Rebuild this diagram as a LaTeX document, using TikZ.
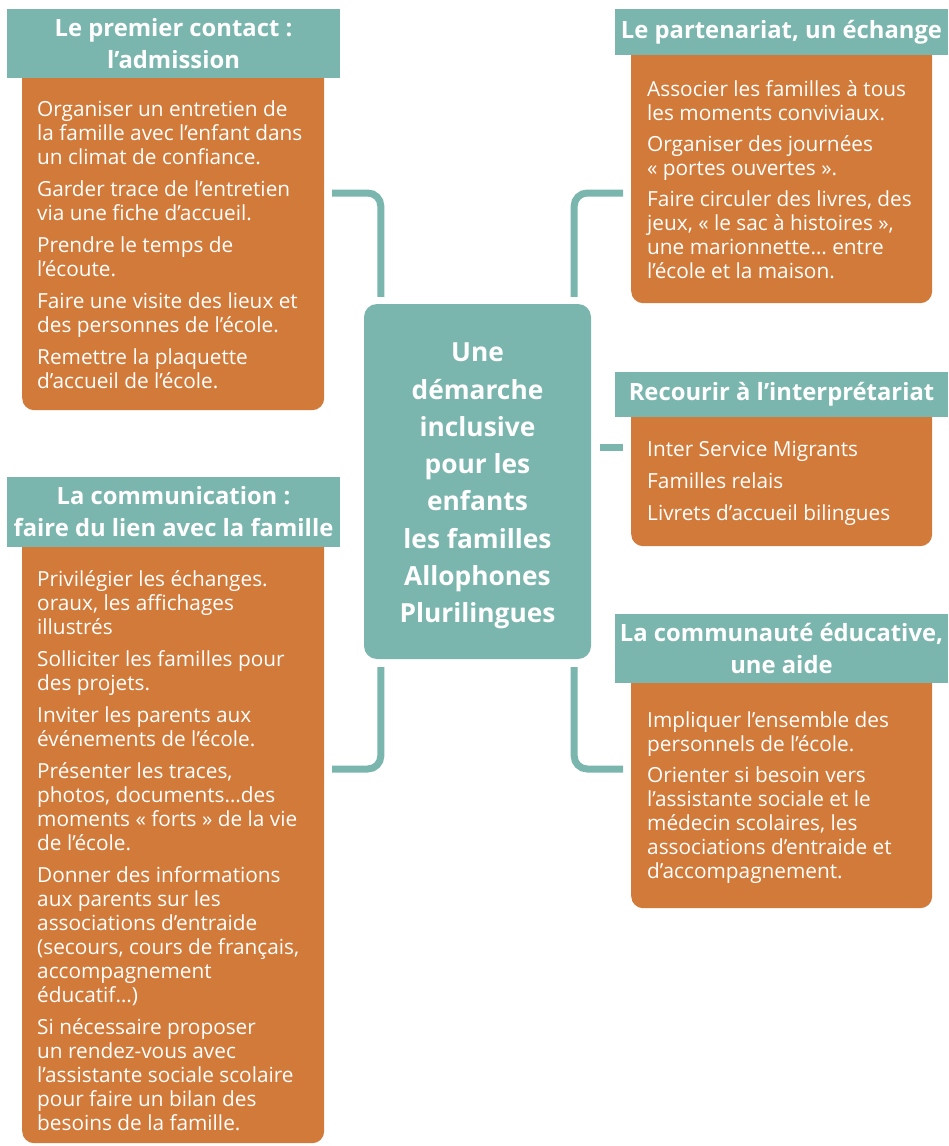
\documentclass[tikz,border=0pt]{standalone}
\usepackage{fontspec}
\setmainfont{Open Sans}
\usepackage{tikz}
\usetikzlibrary{positioning}
\definecolor{tealgreen}{HTML}{7AB6AD}
\definecolor{brickorange}{HTML}{D17A3A}
\tikzset{
    title_style/.style={
        rectangle,                 % bandeau du titre
        fill=tealgreen,
        text=white,
        inner sep=0pt,
        align=center,
        minimum width=333pt,
        font=\bfseries\fontsize{23.8}{32}\selectfont
    },
    body_style/.style={
        rectangle,
        rounded corners=12pt,
        fill=brickorange,
        inner sep=0pt,
        anchor=north west,
        minimum width=302pt
    },
    text_style/.style={
        text=white,
        inner sep=0pt,
        anchor=north west,
        align=left,
        font=\fontsize{20.8}{24}\selectfont
    },
    hub_style/.style={
        rectangle,
        rounded corners=13pt,
        fill=tealgreen,
        text=white,
        inner sep=0pt,
        align=center,
        minimum width=227pt,
        minimum height=355pt,
        font=\bfseries\fontsize{26.3}{37.3}\selectfont
    },
    link_style/.style={
        draw=tealgreen,
        line width=7pt,
        rounded corners=13pt
    }
}

\begin{document}
\begin{tikzpicture}[x=1pt,y=-1pt]
    \useasboundingbox (0,0) rectangle (948,1146);

    % 1. le noeud central
    \node[hub_style] (hub) at (477.5,481.5)
        {\rule{0pt}{28pt}Une\\démarche\\inclusive\\pour les\\enfants\\les familles\\Allophones\\Plurilingues};

    % 2. les blocs orange (sous les titres)
    \node[body_style, minimum height=350pt] (admission_box) at (22,60) {};
    \node[body_style, minimum height=270pt, minimum width=301pt] (partner_box) at (631,33) {};
    \node[body_style, minimum height=151pt, minimum width=301pt] (interp_box) at (631,395) {};
    \node[body_style, minimum height=259pt, minimum width=301pt] (commu_box) at (631,649) {};
    \node[body_style, minimum height=631pt] (comm_box) at (22,512) {};

    % 3. les titres
    \node[title_style, minimum height=69pt] (admission_title) at (173.5,43.5) {Le premier contact :\\l’admission};
    \node[title_style, minimum height=46pt] (partner_title) at (781.5,32) {Le partenariat, un échange};
    \node[title_style, minimum height=45pt] (interp_title) at (781.5,394.5) {Recourir à l’interprétariat};
    \node[title_style, minimum height=69pt] (commu_title) at (781.5,648.5) {La communauté éducative,\\une aide};
    \node[title_style, minimum height=70pt] (comm_title) at (173.5,512) {La communication :\\faire du lien avec la famille};

    % 4. les textes
    \node[text_style] (admission_text) at (37,100) {Organiser un entretien de\\la famille avec l’enfant dans\\un climat de confiance.\\[8pt]
        Garder trace de l’entretien\\via une fiche d’accueil.\\[8pt]
        Prendre le temps de\\l’écoute.\\[8pt]
        Faire une visite des lieux et\\des personnes de l’école.\\[8pt]
        Remettre la plaquette\\d’accueil de l’école.};
    \node[text_style] (partner_text) at (647,80) {Associer les familles à tous\\les moments conviviaux.\\[7pt]
        Organiser des journées\\« portes ouvertes ».\\[7pt]
        Faire circuler des livres, des\\jeux, « le sac à histoires »,\\une marionnette… entre\\l’école et la maison.};
    \node[text_style] (interp_text) at (647,441) {Inter Service Migrants\\[8pt]
        Familles relais\\[8pt]
        Livrets d’accueil bilingues};
    \node[text_style] (commu_text) at (647,711) {Impliquer l’ensemble des\\personnels de l’école.\\[7pt]
        Orienter si besoin vers\\l’assistante sociale et le\\médecin scolaires, les\\associations d’entraide et\\d’accompagnement.};
    \node[text_style] (comm_text) at (37,570) {Privilégier les échanges.\\oraux, les affichages\\illustrés\\[8pt]
        Solliciter les familles pour\\des projets.\\[8pt]
        Inviter les parents aux\\événements de l’école.\\[8pt]
        Présenter les traces,\\photos, documents…des\\moments « forts » de la vie\\de l’école.\\[8pt]
        Donner des informations\\aux parents sur les\\associations d’entraide\\(secours, cours de français,\\accompagnement\\éducatif…)\\[8pt]
        Si nécessaire proposer\\un rendez-vous avec\\l’assistante sociale scolaire\\pour faire un bilan des\\besoins de la famille.};

    % 5. les liaisons
    \coordinate (admission_end) at (332,193);
    \coordinate (partner_end) at (623,193);
    \coordinate (interp_end) at (623,447);
    \coordinate (comm_end) at (332,769);
    \coordinate (commu_end) at (623,769);
    \draw[link_style] (admission_end) -| ([xshift=17pt,yshift=7pt]hub.north west);
    \draw[link_style] (partner_end) -| ([xshift=-17pt,yshift=7pt]hub.north east);
    \draw[link_style, shorten <=9pt] (hub.east |- interp_end) -- (interp_end);
    \draw[link_style] ([xshift=17pt,yshift=-8pt]hub.south west) |- (comm_end);
    \draw[link_style] ([xshift=-17pt,yshift=-8pt]hub.south east) |- (commu_end);
\end{tikzpicture}
\end{document}
